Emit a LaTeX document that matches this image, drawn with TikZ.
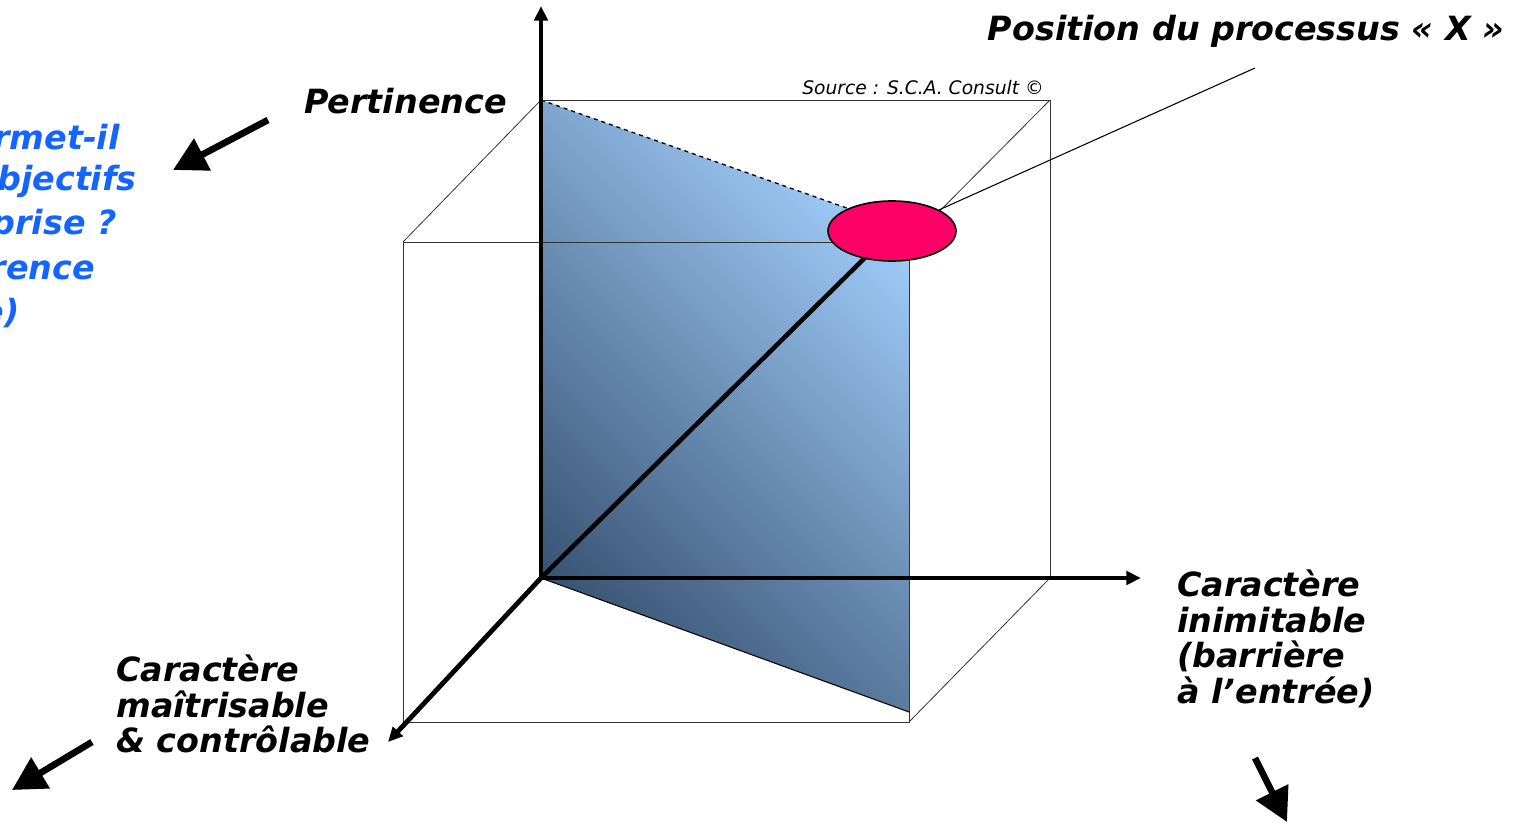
\documentclass[tikz,border=0pt]{standalone}
\usepackage{fontspec}
\setmainfont{DejaVu Sans}
\usepackage{xcolor}
\usepackage{tikz}
\usetikzlibrary{positioning}
\usetikzlibrary{arrows.meta}
\usetikzlibrary{shapes.geometric}
\definecolor{planedark}{RGB}{58, 84, 116}
\definecolor{planelight}{RGB}{160, 204, 250}
\definecolor{posred}{RGB}{255, 0, 102}
\definecolor{askblue}{RGB}{20, 100, 255}

\begin{document}
\begin{tikzpicture}[
  x=0.75pt, y=-0.75pt,
  edge/.style={line width=0.6pt, black!80},
  axis/.style={line width=3.6pt, -{Triangle[length=11pt, width=10pt]}},
  hint/.style={line width=5pt, -{Triangle[length=25pt, width=26pt]}},
  lbl/.style={font=\fontsize{25}{26.6}\selectfont\bfseries\itshape, align=left, inner sep=0pt},
  ask/.style={font=\fontsize{25}{30}\selectfont\bfseries\itshape, text=askblue, inner sep=0pt},
  spot/.style={ellipse, draw, line width=1.2pt, fill=posred, minimum width=96pt, minimum height=45pt, inner sep=0pt}
]
\useasboundingbox (0,0) rectangle (1515,823);

% Cube corners
\coordinate (O)  at (541,578);
\coordinate (b1) at (541,100);
\coordinate (b2) at (1050,100);
\coordinate (b3) at (1050,578);
\coordinate (f1) at (403,242);
\coordinate (f2) at (909,242);
\coordinate (f3) at (909,722);
\coordinate (f4) at (403,722);
\coordinate (p1) at (909,230);
\coordinate (p2) at (909,712);

% Plane
\shade[top color=planelight, bottom color=planedark, shading angle=-45]
  (b1) -- (p1) -- (p2) -- (O) -- cycle;
\draw[line width=0.8pt] (p2) -- (O);
\draw[line width=1pt, dashed] (b1) -- (p1);

% Cube
\draw[edge] (b1) -- (b2) -- (b3) -- (O);
\draw[edge] (f1) -- (f2) -- (f3) -- (f4) -- cycle;
\draw[edge] (f1) -- (b1);
\draw[edge] (f2) -- (b2);
\draw[edge] (f3) -- (b3);

% Axes
\coordinate (top)   at (541,6);
\coordinate (right) at (1141,578);
\coordinate (front) at (388,742);
\draw[axis] (O) -- (top);
\draw[axis] (O) -- (right);
\draw[axis] (O) -- (front);

% Position of the process
\coordinate (pc) at (892,231);
\draw[line width=3.4pt] (O) -- (pc);
\node[spot] (pos) at (pc) {};
\coordinate (lead) at (1255,68);
\draw[line width=0.8pt] (pos) -- (lead);

% Labels
\node[lbl, anchor=east] (pert) at (507,101) {Pertinence};
\node[lbl] (title) at (1246,31) {Position du processus « X »};
\node[font=\fontsize{14}{16}\selectfont\itshape, inner sep=0pt] (src) at (923,88) {Source : S.C.A. Consult ©};
\node[lbl, anchor=north west] (inim) at (1177,570) {Caractère\\inimitable\\(barrière\\à l’entrée)};
\node[lbl, anchor=north west] (maitr) at (116,655) {Caractère\\maîtrisable\\\& contrôlable};

% Question text, cut at the left border
\node[ask, anchor=east] (q1) at (120,137) {rmet-il};
\node[ask, anchor=east] (q2) at (137,181) {bjectifs};
\node[ask, anchor=east] (q3) at (117,225) {prise ?};
\node[ask, anchor=east] (q4) at (95,270) {rence};
\node[ask, anchor=east] (q5) at (20,313) {e)};

% Pointing arrows
\coordinate (h1a) at (268,120);
\coordinate (h1b) at (173,170);
\coordinate (h2a) at (92,742);
\coordinate (h2b) at (12,790);
\coordinate (h3a) at (1255,758);
\coordinate (h3b) at (1287,822);
\draw[hint] (h1a) -- (h1b);
\draw[hint] (h2a) -- (h2b);
\draw[hint] (h3a) -- (h3b);

\end{tikzpicture}
\end{document}
